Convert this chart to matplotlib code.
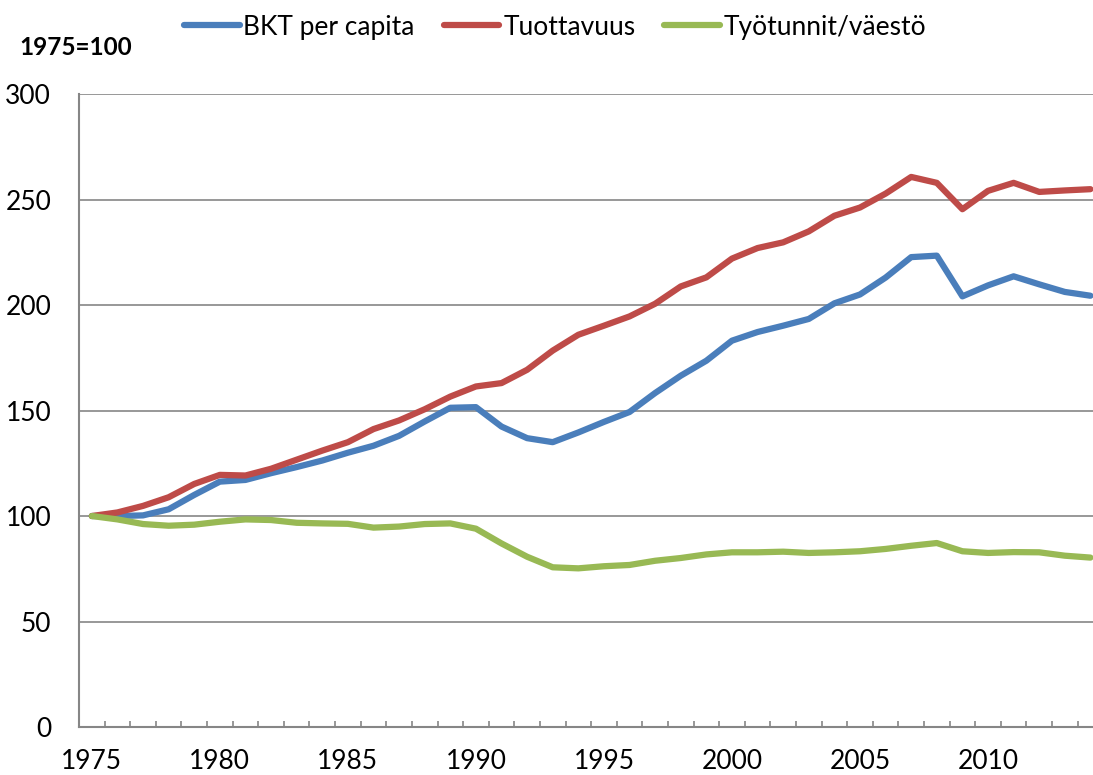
import numpy as np
import matplotlib
matplotlib.use("Agg")
import matplotlib.pyplot as plt

plt.rcParams['font.family'] = ['Lato', 'DejaVu Sans']

years = list(range(1975, 2015))

bkt_per_capita = [100, 100, 100.3, 103.2, 110, 116.3, 117.1, 120.3, 123.2, 126.3,
                  130, 133.3, 138, 144.8, 151.3, 151.6, 142.4, 136.9, 135, 139.6,
                  144.6, 149.3, 158.3, 166.5, 173.6, 183.1, 187.2, 190.2, 193.4, 200.8,
                  205, 213, 222.7, 223.4, 204.1, 209.3, 213.6, 209.8, 206.2, 204.4]

tuottavuus = [100, 101.7, 104.8, 108.9, 115.2, 119.5, 119.2, 122.4, 126.7, 131,
              135, 141.2, 145.3, 150.6, 156.6, 161.4, 163, 169.3, 178.4, 185.9,
              190.2, 194.6, 200.6, 208.8, 213.1, 222, 227, 229.7, 234.9, 242.3,
              246.2, 252.8, 260.7, 257.9, 245.4, 254.1, 257.9, 253.6, 254.3, 254.9]

tyotunnit = [100, 98.4, 96.2, 95.4, 95.9, 97.3, 98.4, 98.1, 96.8, 96.5,
             96.3, 94.5, 95, 96.2, 96.5, 94, 87, 80.7, 75.7, 75.2,
             76.2, 76.8, 78.8, 80.1, 81.8, 82.8, 82.8, 83.1, 82.5, 82.8,
             83.3, 84.4, 85.9, 87.2, 83.3, 82.5, 82.9, 82.8, 81.2, 80.3]

series_names = ['BKT per capita', 'Tuottavuus', 'Työtunnit/väestö']
colors = ['#4A7EBB', '#BE4B48', '#98B954']

fig = plt.figure(figsize=(10.93, 7.75), dpi=100)
ax = fig.add_axes([0.0723, 0.0619, 0.9277, 0.8168])

for vals, name, c in zip([bkt_per_capita, tuottavuus, tyotunnit], series_names, colors):
    ax.plot(years, vals, color=c, lw=4.5, label=name, solid_capstyle='round',
            solid_joinstyle='round', zorder=3)

ax.set_ylim(0, 300)
ax.set_xlim(1974.5, 2014.1)
ax.set_yticks(range(0, 301, 50))
ax.set_xticks(range(1975, 2011, 5))
ax.set_xticks(np.arange(1975.5, 2014, 1), minor=True)

ax.grid(axis='y', color='#868686', lw=1.2, zorder=1)
for s in ['top', 'right']:
    ax.spines[s].set_visible(False)
for s in ['left', 'bottom']:
    ax.spines[s].set_color('#868686')
    ax.spines[s].set_linewidth(1.5)

ax.tick_params(axis='y', length=0, pad=20, labelsize=19)
ax.tick_params(axis='x', which='major', length=0, pad=16, labelsize=19)
ax.tick_params(axis='x', which='minor', direction='in', length=4.5, width=1.2,
               color='#868686')

fig.text(0.018, 0.939, '1975=100', fontsize=17.5, fontweight='bold', va='center')

fig.legend(loc='center', bbox_to_anchor=(0.508, 0.965), ncol=3, frameon=False,
           fontsize=19, handlelength=2.1, handletextpad=0.15, columnspacing=1.1)

fig.savefig('out.png', dpi=100)
